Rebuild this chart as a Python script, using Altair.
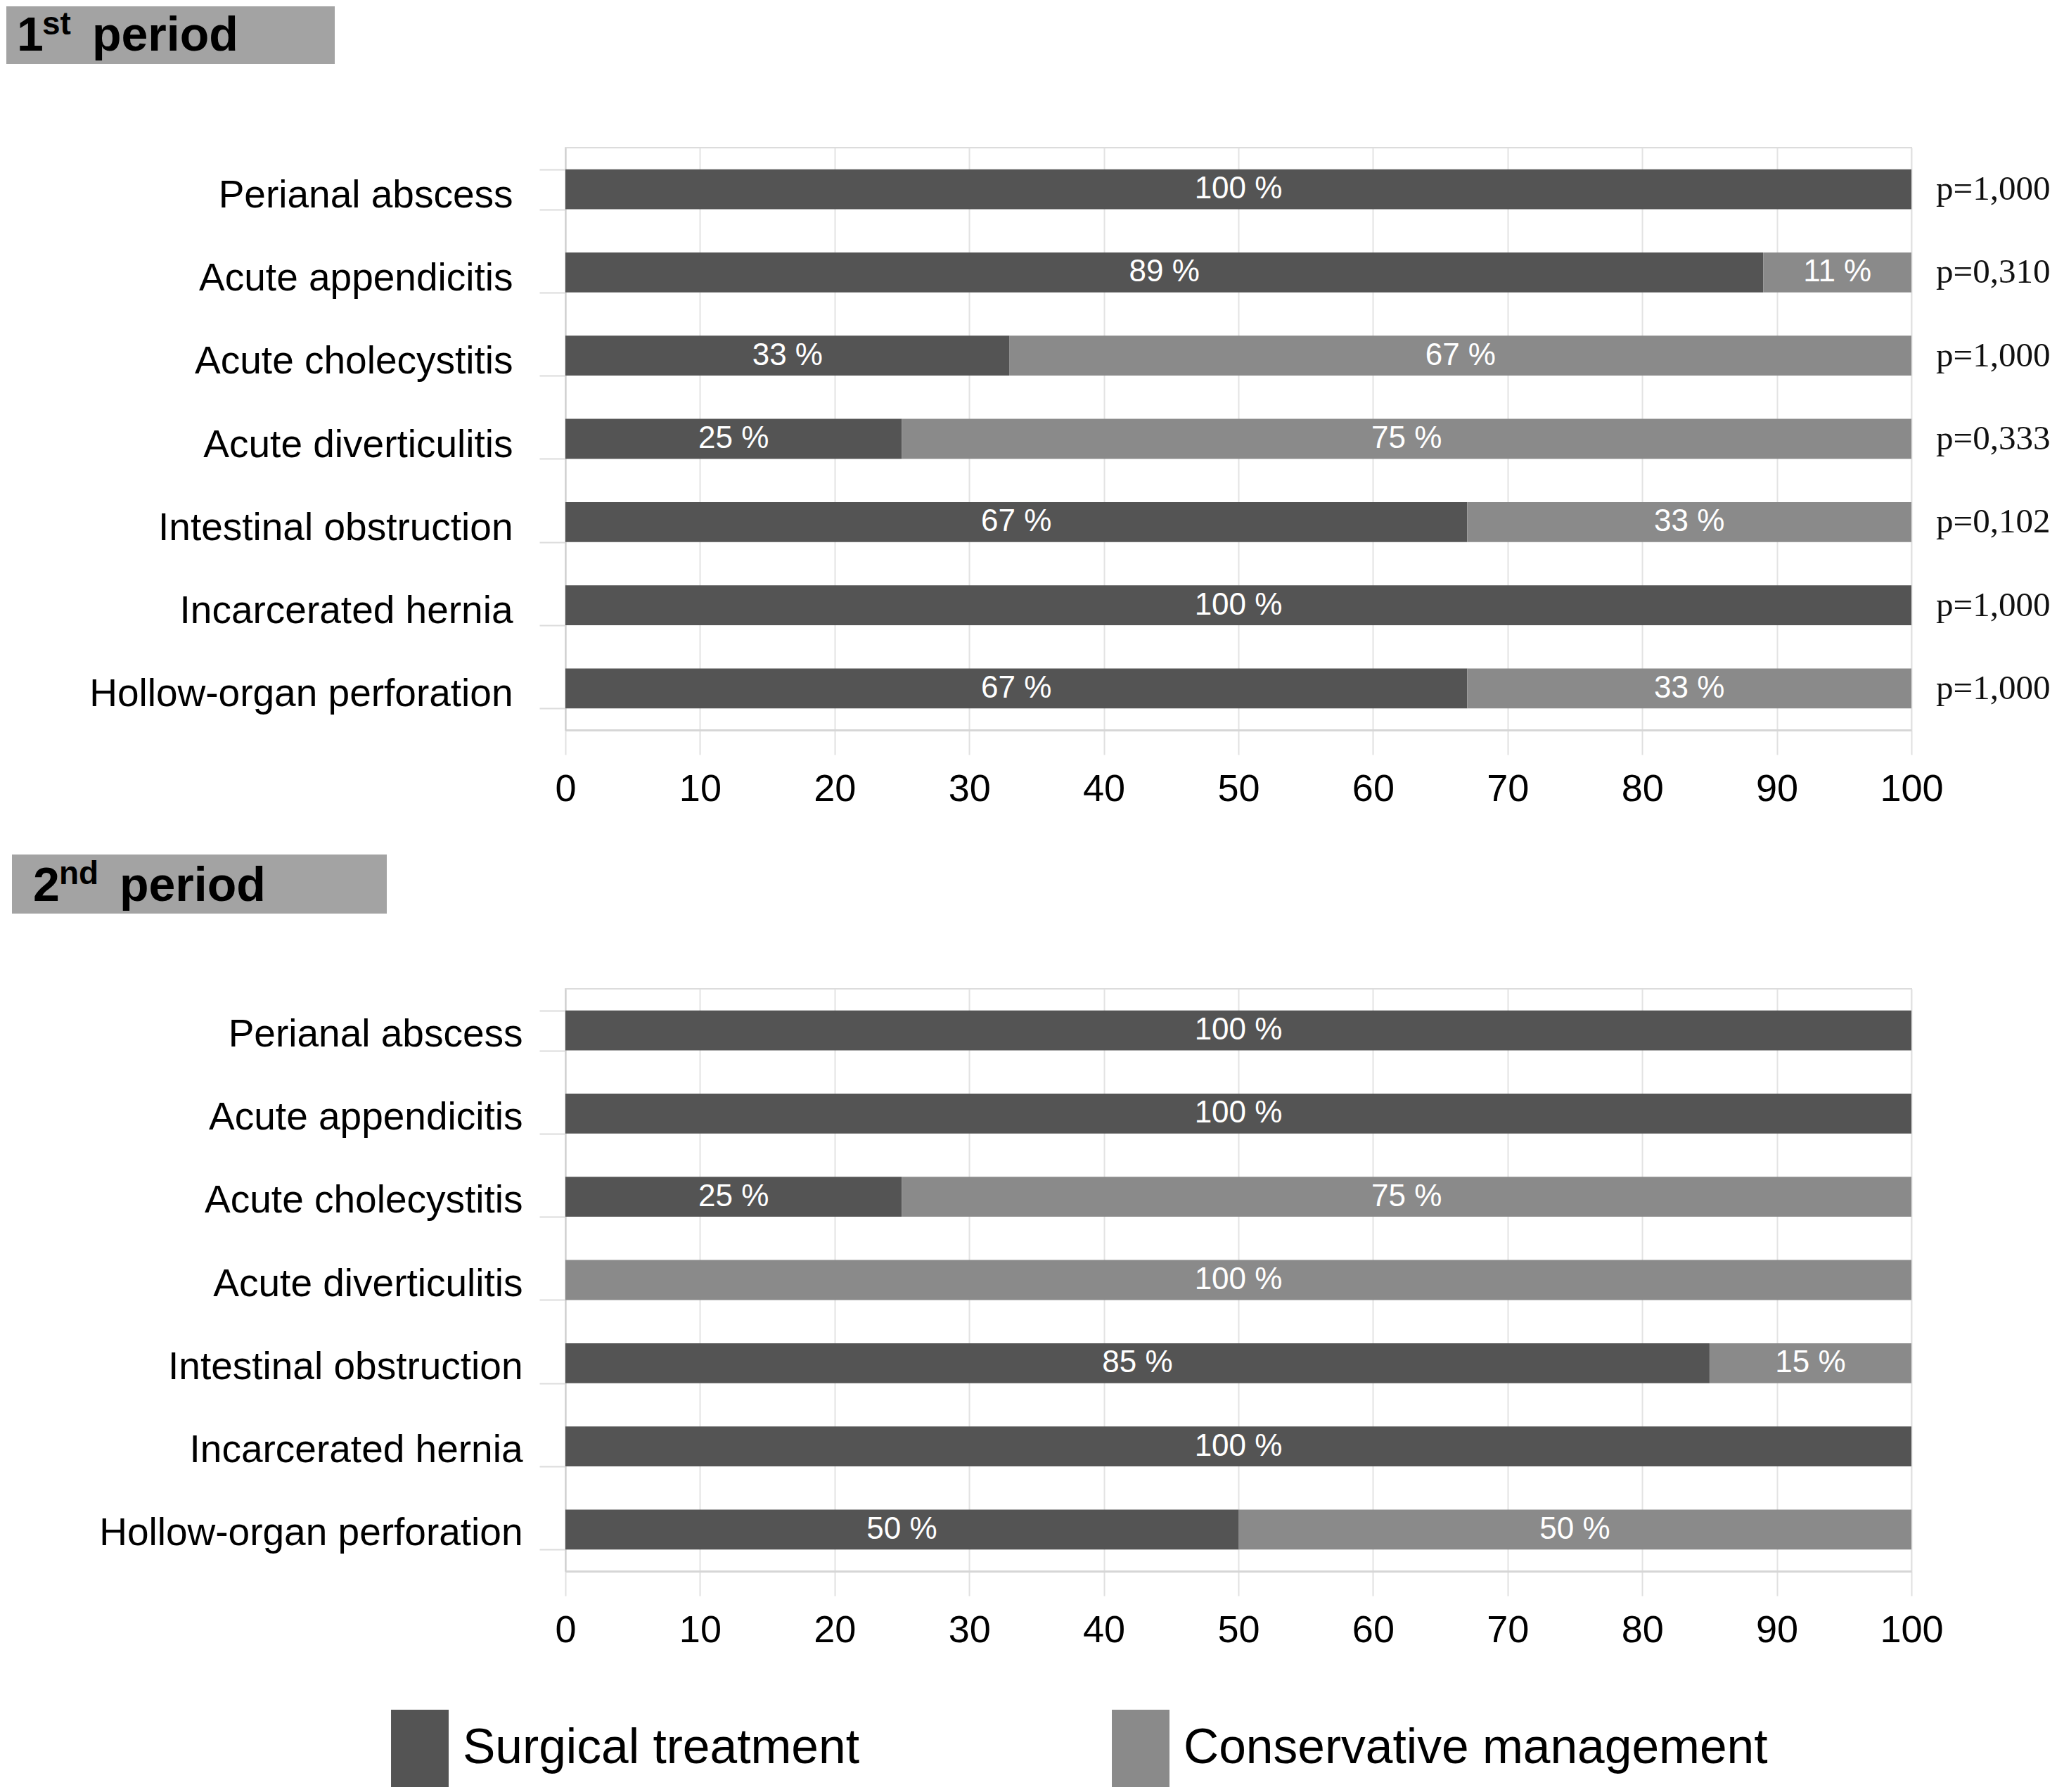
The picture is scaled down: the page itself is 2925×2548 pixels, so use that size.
import altair as alt
import pandas as pd

categories = ["Perianal abscess", "Acute appendicitis", "Acute cholecystitis",
              "Acute diverticulitis", "Intestinal obstruction", "Incarcerated hernia",
              "Hollow-organ perforation"]
treatments = ["Surgical treatment", "Conservative management"]

surgical_1 = [100, 89, 33, 25, 67, 100, 67]
conservative_1 = [0, 11, 67, 75, 33, 0, 33]
p_values_1 = ["p=1,000", "p=0,310", "p=1,000", "p=0,333", "p=0,102", "p=1,000", "p=1,000"]

surgical_2 = [100, 100, 25, 0, 85, 100, 50]
conservative_2 = [0, 0, 75, 100, 15, 0, 50]

x_ticks = [0, 10, 20, 30, 40, 50, 60, 70, 80, 90, 100]
header_1 = ["1", "st", "period"]
header_2 = ["2", "nd", "period"]
colors = ["#545454", "#8a8a8a"]

FONT = "Liberation Sans"
W, H = 1914, 828


def long_df(surg, cons):
    rows = []
    for c, s, k in zip(categories, surg, cons):
        rows.append({"category": c, "treatment": treatments[0], "ord": 0, "value": s})
        rows.append({"category": c, "treatment": treatments[1], "ord": 1, "value": k})
    return pd.DataFrame(rows)


color_enc = alt.Color(
    "treatment:N",
    scale=alt.Scale(domain=treatments, range=colors),
    legend=alt.Legend(
        title=None, orient="none", legendX=-262, legendY=2221, direction="horizontal",
        symbolType="M-0.745,-1H0.745V1H-0.745Z", symbolSize=12100, symbolStrokeWidth=0,
        symbolOpacity=1, labelFontSize=69.5, labelFont=FONT, labelColor="#000",
        labelOffset=6, columnPadding=345, padding=0, labelLimit=0,
    ),
)


def header(parts, box, pos):
    (bx1, bx2, by1, by2) = box
    layers = [
        alt.Chart(pd.DataFrame({"t": ["".join(parts)]})).mark_rect(color="#a3a3a3").encode(
            x=alt.value(bx1), x2=alt.value(bx2), y=alt.value(by1), y2=alt.value(by2))
    ]
    sizes = [68, 46, 68]
    for part, (px, py), fs in zip(parts, pos, sizes):
        layers.append(
            alt.Chart(pd.DataFrame({"t": [part]})).mark_text(
                align="left", baseline="alphabetic", font=FONT, fontWeight="bold",
                fontSize=fs, color="#000").encode(
                x=alt.value(px), y=alt.value(py), text="t:N")
        )
    return layers


def panel(surg, cons, pvals, hdr, box, pos, label_pad, label_offset):
    df = long_df(surg, cons)
    base = alt.Chart(df).transform_stack(
        stack="value", as_=["x0", "x1"], groupby=["category"],
        sort=[alt.SortField("ord", order="ascending")]
    ).transform_calculate(
        mid="(datum.x0 + datum.x1) / 2", label="datum.value + ' %'"
    )
    y_enc = alt.Y(
        "category:N", sort=categories,
        scale=alt.Scale(paddingInner=0.52, paddingOuter=0.26),
        axis=alt.Axis(title=None, tickBand="extent", tickSize=37, labelPadding=label_pad,
                      labelOffset=label_offset, labelFontSize=55, labelLimit=1000,
                      labelColor="#000", domainColor="#cfcfcf", domainWidth=2,
                      tickColor="#dcdcdc", tickWidth=2, grid=False),
    )
    x_enc = alt.X(
        "x0:Q", scale=alt.Scale(domain=[0, 100], nice=False),
        axis=alt.Axis(title=None, values=x_ticks, tickSize=35, labelPadding=22,
                      labelFontSize=54, labelColor="#000", labelFlush=False,
                      grid=True, gridColor="#e3e3e3",
                      gridWidth=2, tickColor="#e0e0e0", tickWidth=2,
                      domainColor="#d6d6d6", domainWidth=3),
    )
    bars = base.mark_bar().encode(
        x=x_enc, x2="x1:Q", y=y_enc, color=color_enc,
        order=alt.Order("ord:Q"),
    )
    texts = base.transform_filter("datum.value > 0").mark_text(
        color="white", fontSize=44, font=FONT, baseline="middle"
    ).encode(x="mid:Q", y=alt.Y("category:N", sort=categories), text="label:N")
    layers = [bars, texts]
    if pvals is not None:
        pdf = pd.DataFrame({"category": categories, "p": pvals})
        layers.append(
            alt.Chart(pdf).mark_text(align="left", dx=35, font="Liberation Serif",
                                     fontSize=49, color="#111", baseline="middle").encode(
                x=alt.datum(100), y=alt.Y("category:N", sort=categories), text="p:N")
        )
    layers += header(hdr, box, pos)
    return alt.layer(*layers).properties(width=W, height=H)


top = panel(surgical_1, conservative_1, p_values_1, header_1,
            (-795, -328, -201, -119), [(-780, -138), (-744, -161), (-673, -138)], 38, 8)
bottom = panel(surgical_2, conservative_2, None, header_2,
               (-787, -254, -191, -107), [(-757, -125), (-720, -149), (-634, -125)], 24, 5)

chart = alt.vconcat(top, bottom, spacing=368, bounds="flush").properties(
    padding=0
).configure(font=FONT).configure_view(stroke="#dcdcdc", strokeWidth=2)

chart.save("out.html", embed_options={"renderer": "svg", "actions": False})
